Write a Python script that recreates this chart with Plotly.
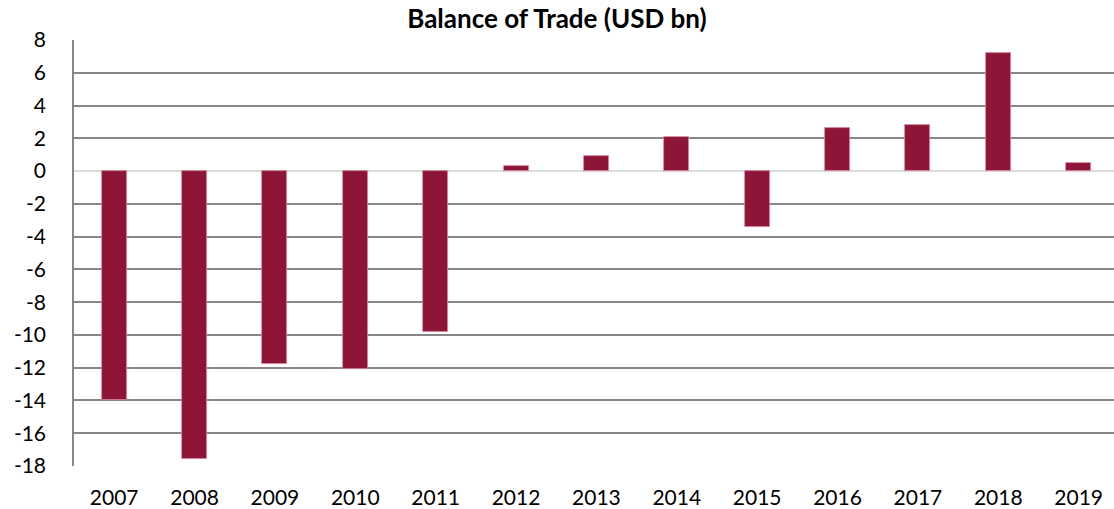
import plotly.graph_objects as go

years = ["2007", "2008", "2009", "2010", "2011", "2012", "2013",
         "2014", "2015", "2016", "2017", "2018", "2019"]
balance = [-14.0, -17.55, -11.75, -12.1, -9.8, 0.3, 0.9,
           2.1, -3.4, 2.6, 2.8, 7.2, 0.5]
y_ticks = [8, 6, 4, 2, 0, -2, -4, -6, -8, -10, -12, -14, -16, -18]

fig = go.Figure()
fig.add_trace(go.Bar(
    x=list(range(len(years))), y=balance,
    width=0.31,
    marker=dict(color="#8C1538", line=dict(color="#d98aa0", width=0.8)),
))

fig.update_layout(
    width=1114, height=509,
    margin=dict(l=74, r=0, t=40, b=43),
    paper_bgcolor="white", plot_bgcolor="white",
    font=dict(family="Lato, Carlito, Calibri, sans-serif", size=21, color="black"),
    title=dict(text="<b>Balance of Trade (USD bn)</b>", x=0.5, xanchor="center",
               y=0.962, yanchor="middle", font=dict(size=26)),
    showlegend=False,
    bargap=0,
)
fig.update_xaxes(
    range=[-0.5, 12.44],
    tickmode="array", tickvals=list(range(len(years))), ticktext=years,
    showgrid=False, zeroline=False, showline=False, ticks="",
    ticklabelstandoff=17,
)
fig.update_yaxes(
    range=[-18, 8],
    tickmode="array", tickvals=y_ticks, ticktext=[str(v) for v in y_ticks],
    showgrid=True, gridcolor="#878787", gridwidth=1.5,
    zeroline=True, zerolinecolor="#dcdcdc", zerolinewidth=2,
    showline=True, linecolor="#878787", linewidth=1.5, ticks="",
    ticklabelstandoff=22,
)

fig.write_html("out.html")
